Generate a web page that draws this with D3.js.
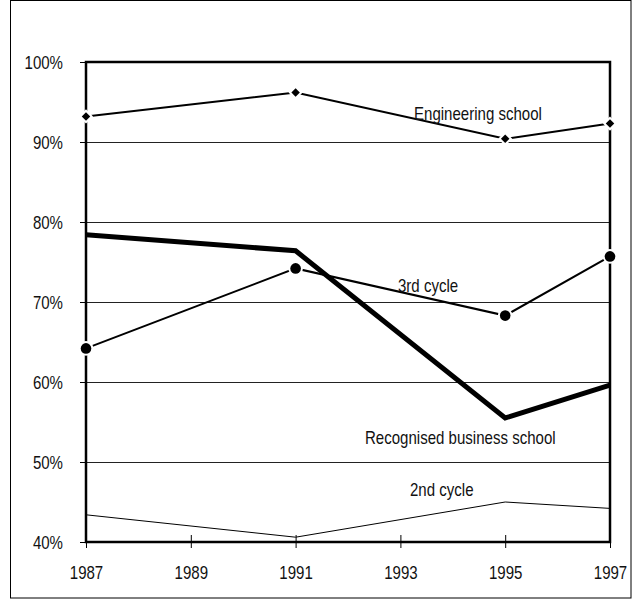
<!DOCTYPE html>
<html>
<head>
<meta charset="utf-8">
<script src="https://cdn.jsdelivr.net/npm/d3@7"></script>
<style>
  html, body { margin: 0; padding: 0; background: #fff; }
  svg { display: block; }
  text { font-family: "Liberation Sans", Arial, sans-serif; fill: #111; }
</style>
</head>
<body>
<svg id="chart" width="632" height="600"></svg>
<script>
// Survey years
const years = [1987, 1991, 1995, 1997];

// Share of graduates per programme (fractions)
const engineeringSchool = [0.932, 0.962, 0.904, 0.923];
const thirdCycle        = [0.642, 0.742, 0.683, 0.757];
const businessSchool    = [0.784, 0.764, 0.555, 0.596];
const secondCycle       = [0.434, 0.406, 0.450, 0.442];

// Axis ticks
const xTicks = [1987, 1989, 1991, 1993, 1995, 1997];
const yTicks = [0.4, 0.5, 0.6, 0.7, 0.8, 0.9, 1.0];

const series = [
  { name: "2nd cycle", values: secondCycle, width: 1, marker: null },
  { name: "Recognised business school", values: businessSchool, width: 5, marker: null },
  { name: "3rd cycle", values: thirdCycle, width: 2, marker: "circle" },
  { name: "Engineering school", values: engineeringSchool, width: 2, marker: "diamond" }
];

// Where each series name is written
const seriesLabels = [
  { name: "Engineering school", x: 414, y: 120 },
  { name: "3rd cycle", x: 398, y: 292 },
  { name: "Recognised business school", x: 365, y: 444 },
  { name: "2nd cycle", x: 410, y: 496 }
];

// Condensed lettering: regular sans squeezed horizontally
const FONT_SIZE = 17.5;
const SQUEEZE = 0.86;

const svg = d3.select("#chart");
const plot = { left: 86, right: 610, top: 62, bottom: 542 };

const x = d3.scaleLinear().domain([1987, 1997]).range([plot.left, plot.right]);
const y = d3.scaleLinear().domain([0.4, 1.0]).range([plot.bottom, plot.top]);

// Outer frame
svg.append("rect")
  .attr("x", 10.5).attr("y", 0.5)
  .attr("width", 620.5).attr("height", 597.5)
  .attr("fill", "none").attr("stroke", "#000").attr("stroke-width", 1);

// Horizontal gridlines
svg.append("g").selectAll("line")
  .data(yTicks.slice(1, -1))
  .join("line")
  .attr("x1", plot.left).attr("x2", plot.right)
  .attr("y1", d => Math.round(y(d)) + 0.5).attr("y2", d => Math.round(y(d)) + 0.5)
  .attr("stroke", "#222").attr("stroke-width", 1);

// Y axis
const yAxis = d3.axisLeft(y)
  .tickValues(yTicks)
  .tickFormat(d3.format(".0%"))
  .tickSize(6);
const gy = svg.append("g").attr("transform", `translate(${plot.left},0)`).call(yAxis);
gy.select(".domain").remove();
gy.selectAll(".tick line").attr("stroke", "#000").attr("stroke-width", 1);
gy.selectAll(".tick text")
  .attr("font-size", FONT_SIZE).attr("fill", "#111")
  .attr("font-family", null)
  .attr("x", 0)
  .attr("dy", "0.36em")
  .attr("transform", `translate(-23,0) scale(${SQUEEZE},1)`);

// X axis: ticks straddle the bottom frame
const xAxis = d3.axisBottom(x)
  .tickValues(xTicks)
  .tickFormat(d3.format("d"))
  .tickSizeInner(6)
  .tickSizeOuter(0)
  .tickPadding(19);
const gx = svg.append("g").attr("transform", `translate(0,${plot.bottom})`).call(xAxis);
gx.select(".domain").remove();
gx.selectAll(".tick line").attr("y1", -7).attr("y2", 6).attr("stroke", "#000").attr("stroke-width", 1);
gx.selectAll(".tick text")
  .attr("font-size", FONT_SIZE).attr("fill", "#111")
  .attr("font-family", null)
  .attr("transform", `scale(${SQUEEZE},1)`);

// Lines
const line = d3.line()
  .x((d, i) => x(years[i]))
  .y(d => y(d));

svg.append("g").selectAll("path")
  .data(series)
  .join("path")
  .attr("d", s => line(s.values))
  .attr("fill", "none")
  .attr("stroke", "#000")
  .attr("stroke-width", s => s.width)
  .attr("stroke-linejoin", "miter");

// Plot frame on top of the lines
svg.append("rect")
  .attr("x", plot.left).attr("y", plot.top)
  .attr("width", plot.right - plot.left).attr("height", plot.bottom - plot.top)
  .attr("fill", "none").attr("stroke", "#000").attr("stroke-width", 2.5);

// Markers with white halo
const markerG = svg.append("g");
series.filter(s => s.marker).forEach(s => {
  const pts = s.values.map((v, i) => ({ x: x(years[i]), y: y(v) }));
  if (s.marker === "circle") {
    markerG.selectAll(null).data(pts).join("circle")
      .attr("cx", d => d.x).attr("cy", d => d.y).attr("r", 5.3)
      .attr("fill", "#000").attr("stroke", "#fff").attr("stroke-width", 4)
      .attr("paint-order", "stroke");
  } else {
    const sym = d3.symbol().type(d3.symbolDiamond2).size(46);
    markerG.selectAll(null).data(pts).join("path")
      .attr("transform", d => `translate(${d.x},${d.y})`)
      .attr("d", sym)
      .attr("fill", "#000").attr("stroke", "#fff").attr("stroke-width", 4)
      .attr("paint-order", "stroke");
  }
});

// Series names
svg.append("g").selectAll("text")
  .data(seriesLabels)
  .join("text")
  .attr("transform", d => `translate(${d.x},${d.y}) scale(${SQUEEZE},1)`)
  .attr("font-size", FONT_SIZE)
  .text(d => d.name);
</script>
</body>
</html>
